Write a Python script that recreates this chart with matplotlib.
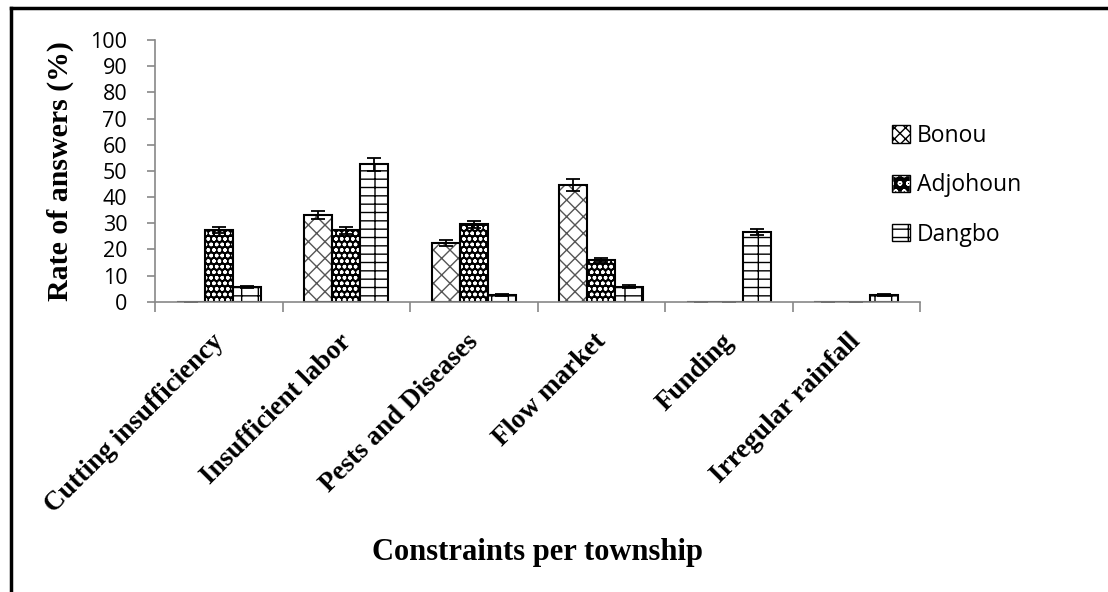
import numpy as np
import matplotlib.pyplot as plt
import matplotlib.transforms as mtransforms
from matplotlib.lines import Line2D
from matplotlib.patches import Patch

categories = ["Cutting insufficiency", "Insufficient labor", "Pests and Diseases",
              "Flow market", "Funding", "Irregular rainfall"]
bonou = [0, 33.2, 22.3, 44.6, 0, 0]
adjohoun = [27.3, 27.3, 29.6, 15.9, 0, 0]
dangbo = [5.7, 52.6, 2.6, 5.7, 26.6, 2.6]
bonou_err = [0, 1.6, 1.1, 2.2, 0, 0]
adjohoun_err = [1.2, 1.3, 1.4, 0.7, 0, 0]
dangbo_err = [0.4, 2.5, 0.3, 0.5, 1.3, 0.4]

plt.rcParams['hatch.linewidth'] = 1.0
fig = plt.figure(figsize=(11.08, 5.92), dpi=100)
ax = fig.add_axes([0.1399, 0.4904, 0.6905, 0.442])

x = np.arange(len(categories))
w = 0.22
ekw = dict(ecolor='black', elinewidth=1.3, capsize=5, capthick=1.3)

# Bonou: white with diamond cross hatch
ax.bar(x - w, bonou, w, color='white', edgecolor='#555555', hatch='xx', linewidth=0)
ax.bar(x - w, bonou, w, color='none', edgecolor='black', linewidth=1.5,
       yerr=bonou_err, error_kw=ekw)

# Adjohoun: black with white dots
ax.bar(x, adjohoun, w, color='black', edgecolor='white', hatch='ooo', linewidth=0)
ax.bar(x, adjohoun, w, color='none', edgecolor='black', linewidth=1.5,
       yerr=adjohoun_err, error_kw=ekw)

# Dangbo: brick-like pattern
ax.bar(x + w, dangbo, w, color='white', edgecolor='black', hatch='--|', linewidth=0)
ax.bar(x + w, dangbo, w, color='none', edgecolor='black', linewidth=1.5,
       yerr=dangbo_err, error_kw=ekw)

ax.set_xlim(-0.5, len(categories) - 0.5)
ax.set_ylim(0, 100)
ax.set_yticks(range(0, 101, 10))
ax.set_xticks(x)
ax.set_xticks(np.arange(-0.5, len(categories), 1), minor=True)
ax.set_xticklabels(categories, rotation=45, ha='right', rotation_mode='anchor',
                   fontsize=19.5, fontweight='bold', family='Liberation Serif')
ax.tick_params(axis='x', which='major', length=0, pad=14)
ax.tick_params(axis='x', which='minor', length=7, color='#888888', width=1.2)
ax.tick_params(axis='y', length=6, color='#888888', width=1.2, labelsize=15.5, pad=14)
for lab in ax.get_yticklabels():
    lab.set_family('Open Sans')
# nudge category labels down-left
shift = mtransforms.ScaledTranslation(-8 / 100, -8 / 100, fig.dpi_scale_trans)
for lab in ax.get_xticklabels():
    lab.set_transform(lab.get_transform() + shift)

for s in ['top', 'right']:
    ax.spines[s].set_visible(False)
for s in ['left', 'bottom']:
    ax.spines[s].set_color('#888888')
    ax.spines[s].set_linewidth(1.2)

ax.set_ylabel("Rate of answers (%)", fontsize=21.5, fontweight='bold',
              family='Liberation Serif', labelpad=12)
fig.text(0.485, 0.067, "Constraints per township", fontsize=22, fontweight='bold',
         family='Liberation Serif', ha='center', va='center')

handles = [Patch(facecolor='white', edgecolor='black', hatch='xxx'),
           (Patch(facecolor='black', edgecolor='white', hatch='oo'),
            Patch(facecolor='none', edgecolor='black')),
           Patch(facecolor='white', edgecolor='black', hatch='--|')]
leg = fig.legend(handles, ["Bonou", "Adjohoun", "Dangbo"], loc='upper left',
                 bbox_to_anchor=(0.786, 0.825), frameon=False, handlelength=0.8,
                 handleheight=0.8, handletextpad=0.3, labelspacing=1.1,
                 prop={'family': 'Open Sans', 'size': 16.5})

# outer frame (left and top edges visible)
fig.add_artist(Line2D([0.0095, 0.0095], [0, 0.986], transform=fig.transFigure,
                      color='black', linewidth=2.5))
fig.add_artist(Line2D([0.0095, 1.0], [0.986, 0.986], transform=fig.transFigure,
                      color='black', linewidth=2.5))

fig.savefig("out.png", dpi=100)
